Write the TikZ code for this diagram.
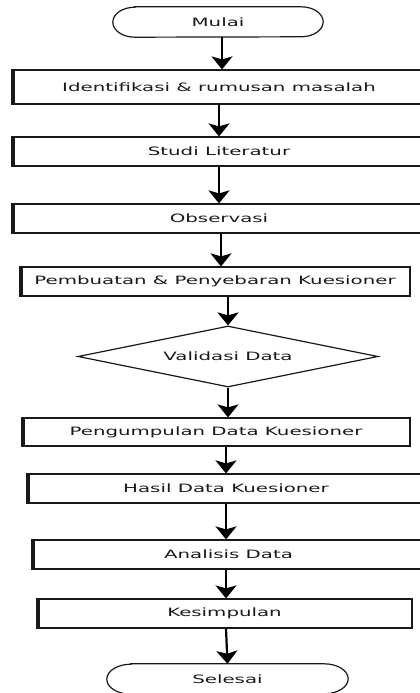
\documentclass[tikz,border=0pt]{standalone}
\usepackage{fontspec}
\setmainfont{DejaVu Sans}[FakeStretch=1.72]
\usetikzlibrary{arrows.meta,shapes.geometric}
\tikzset{
  proses/.style={draw=black!90, line width=1.2pt, rectangle, inner sep=0pt,
    minimum height=29pt, text=black!90,
    path picture={\draw[line width=5pt] (path picture bounding box.south west) -- (path picture bounding box.north west);}},
  terminal/.style={inner sep=0pt, minimum height=30pt, text=black!90},
  keputusan/.style={draw=black!90, line width=1.2pt, diamond, inner sep=0pt, shape aspect=5,
    minimum width=300pt, minimum height=61pt, text=black!90},
  garis/.style={draw=black!90, line width=1.2pt},
  alur/.style={line width=2.2pt, -{Stealth[length=13pt,width=21pt,inset=3pt]}},
}
\begin{document}
\begin{tikzpicture}[x=1pt,y=1pt,font=\fontsize{11.5}{13}\selectfont]
\useasboundingbox (0,0) rectangle (420,-693);
% terminal awal dan akhir
\node[terminal, minimum width=210pt] (mulai) at (218,-22){Mulai};
\draw[garis] ([xshift=22pt]mulai.north west) -- ([xshift=-22pt]mulai.north east)
  arc[start angle=90, end angle=-90, x radius=22pt, y radius=15pt]
  -- ([xshift=22pt]mulai.south west)
  arc[start angle=270, end angle=90, x radius=22pt, y radius=15pt] -- cycle;
\node[terminal, minimum width=241pt] (selesai) at (227.5,-679){Selesai};
\draw[garis] ([xshift=24pt]selesai.north west) -- ([xshift=-24pt]selesai.north east)
  arc[start angle=90, end angle=-90, x radius=24pt, y radius=15pt]
  -- ([xshift=24pt]selesai.south west)
  arc[start angle=270, end angle=90, x radius=24pt, y radius=15pt] -- cycle;
% langkah penelitian
\node[proses, minimum width=414pt, minimum height=34pt] (identifikasi) at (219,-87){Identifikasi \& rumusan masalah};
\node[proses, minimum width=414pt] (studi) at (219,-151.5){Studi Literatur};
\node[proses, minimum width=414pt] (observasi) at (219,-218.5){Observasi};
\node[proses, minimum width=390pt] (kuesioner) at (215,-281.5){Pembuatan \& Penyebaran Kuesioner};
\node[keputusan] (validasi) at (228,-356.5){Validasi Data};
\node[proses, minimum width=388pt, minimum height=28pt] (pengumpulan) at (216,-432){Pengumpulan Data Kuesioner};
\node[proses, minimum width=398pt] (hasil) at (226,-488.5){Hasil Data Kuesioner};
\node[proses, minimum width=393pt] (analisis) at (228.5,-554.5){Analisis Data};
\node[proses, minimum width=375pt] (kesimpulan) at (224.5,-613.5){Kesimpulan};
% panah
\draw[alur] ([xshift=4pt]mulai.south) -- ([xshift=3pt]identifikasi.north);
\draw[alur] (identifikasi.south) -- (studi.north);
\draw[alur] (studi.south) -- (observasi.north);
\draw[alur] ([xshift=2pt]observasi.south) -- ([xshift=2pt]observasi.south |- kuesioner.north);
\draw[alur] (validasi.north |- kuesioner.south) -- (validasi.north);
\draw[alur] (validasi.south) -- (validasi.south |- pengumpulan.north);
\draw[alur] (hasil.north |- pengumpulan.south) -- (hasil.north);
\draw[alur] (hasil.south) -- (hasil.south |- analisis.north);
\draw[alur] (hasil.south |- analisis.south) -- (hasil.south |- kesimpulan.north);
\draw[alur] (hasil.south |- kesimpulan.south) -- (selesai.north);
\end{tikzpicture}
\end{document}
